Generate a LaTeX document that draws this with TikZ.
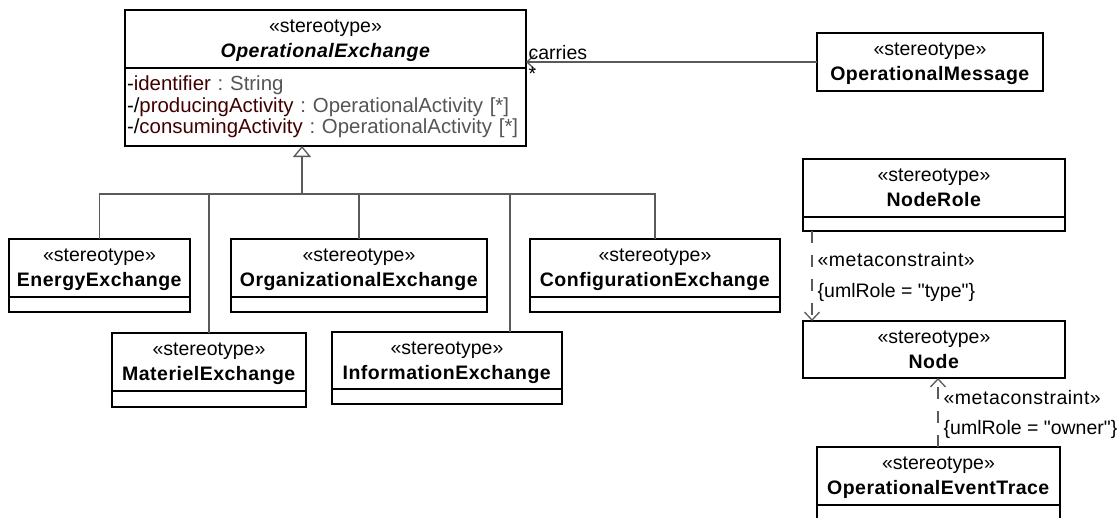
\documentclass[tikz,border=0pt]{standalone}
\usepackage{fontspec}
\setmainfont{Liberation Sans}[BoldFeatures={LetterSpace=2.5}, BoldItalicFeatures={LetterSpace=2.5}]
\usepackage{xcolor}
\usepackage{tikz}
\usetikzlibrary{arrows.meta,positioning}
\definecolor{umlline}{HTML}{5A5A5A}
\definecolor{umlattr}{HTML}{3F0000}
\definecolor{umltype}{HTML}{555555}
\frenchspacing

\begin{document}
\begin{tikzpicture}[
  x=1pt, y=-1pt,
  cls/.style={draw, line width=1.3pt, outer sep=0pt, anchor=north west, inner sep=0pt, minimum height=58pt, text depth=0pt, align=center, font=\fontsize{19.5}{25}\selectfont},
  comp/.style={draw, line width=1.3pt, outer sep=0pt, inner sep=0pt, minimum height=15pt},
  conn/.style={draw=umlline, line width=1.3pt},
  dep/.style={conn, dash pattern=on 12pt off 12pt, -{Straight Barb[length=8pt, width=15pt]}},
  lbl/.style={font=\fontsize{19.5}{22}\selectfont, inner sep=2pt}
]
\clip (0,0) rectangle (1117,517);

% the abstract exchange and what it carries
\node[cls, minimum width=401pt] (opex) at (125,10) {«stereotype»\\\textbf{\textit{OperationalExchange}}};
\node[comp, minimum width=401pt, minimum height=78pt, below=0pt of opex, align=left, text width=397pt, inner xsep=2pt, font=\fontsize{20.4}{21.5}\selectfont] (opex-c) {%
  -\textcolor{umlattr}{identifier} \textcolor{umltype}{: String}\\
  -/\textcolor{umlattr}{producingActivity} \textcolor{umltype}{: OperationalActivity [*]}\\
  -/\textcolor{umlattr}{consumingActivity} \textcolor{umltype}{: OperationalActivity [*]}};
\node[cls, minimum width=226pt] (msg) at (817,33) {«stereotype»\\\textbf{OperationalMessage}};

% specialisations
\node[cls, minimum width=181pt] (energy) at (9,239) {«stereotype»\\\textbf{EnergyExchange}};
\node[comp, minimum width=181pt, below=0pt of energy] (energy-c) {};
\node[cls, minimum width=256pt] (org) at (231,239) {«stereotype»\\\textbf{OrganizationalExchange}};
\node[comp, minimum width=256pt, below=0pt of org] (org-c) {};
\node[cls, minimum width=250pt] (config) at (530,239) {«stereotype»\\\textbf{ConfigurationExchange}};
\node[comp, minimum width=250pt, below=0pt of config] (config-c) {};
\node[cls, minimum width=194pt] (materiel) at (112,333) {«stereotype»\\\textbf{MaterielExchange}};
\node[comp, minimum width=194pt, minimum height=16pt, below=0pt of materiel] (materiel-c) {};
\node[cls, minimum width=230pt, minimum height=57pt] (info) at (332,332) {«stereotype»\\\textbf{InformationExchange}};
\node[comp, minimum width=230pt, below=0pt of info] (info-c) {};

% node side
\node[cls, minimum width=262pt] (noderole) at (803,159) {«stereotype»\\\textbf{NodeRole}};
\node[comp, minimum width=262pt, minimum height=14pt, below=0pt of noderole] (noderole-c) {};
\node[cls, minimum width=262pt, minimum height=57pt] (node) at (803,321) {«stereotype»\\\textbf{Node}};
\node[cls, minimum width=243pt] (trace) at (817,447) {«stereotype»\\\textbf{OperationalEventTrace}};
\node[comp, minimum width=243pt, minimum height=40pt, below=0pt of trace] (trace-c) {};

\draw[conn, -{Straight Barb[length=8pt, width=15pt]}] (msg.west) -- (msg.west -| opex.east)
  node[lbl, pos=1, above right] {carries}
  node[lbl, pos=1, below right, yshift=-2pt] {*};

\coordinate (gen) at (302,194);
\draw[conn, -{Triangle[open, fill=white, length=11pt, width=18pt]}] (gen) -- (gen |- opex-c.south);
\draw[conn] (energy.north) |- (gen) -| (config.north);
\draw[conn] (org.north) -- (org.north |- gen);
\draw[conn] (materiel.north) -- (materiel.north |- gen);
\draw[conn] ([xshift=63pt]info.north) -- ([xshift=63pt]info.north |- gen);

\draw[dep] ([xshift=9pt]noderole-c.south west) -- ([xshift=9pt]node.north west)
  node[lbl, pos=0.32, anchor=west, xshift=3pt] {\addfontfeatures{LetterSpace=2.6}«metaconstraint»}
  node[lbl, pos=0.68, anchor=west, xshift=3pt] {\{umlRole = \textquotedbl type\textquotedbl\}};
\draw[dep] ([xshift=121pt]trace.north west) -- ([xshift=135pt]node.south west)
  node[lbl, pos=0.71, anchor=west, xshift=3pt] {\addfontfeatures{LetterSpace=2.6}«metaconstraint»}
  node[lbl, pos=0.25, anchor=west, xshift=3pt] {\{umlRole = \textquotedbl owner\textquotedbl\}};
\end{tikzpicture}
\end{document}
